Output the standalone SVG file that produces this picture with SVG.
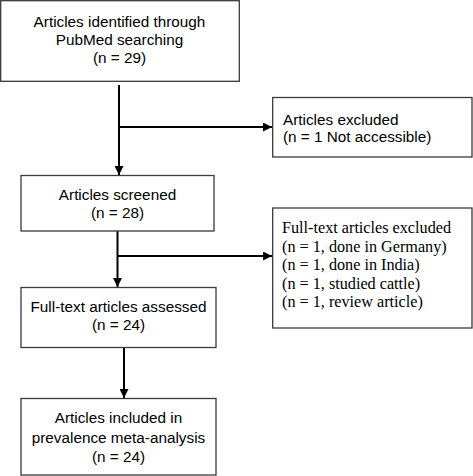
<svg xmlns="http://www.w3.org/2000/svg" width="473" height="476" viewBox="0 0 473 476">
<style>
.box{fill:#fff;stroke:#3a3a3a;stroke-width:1.3}
.t{font-family:"Liberation Sans",Arial,sans-serif;font-size:15.3px;fill:#000;text-anchor:middle}
.tl{font-family:"Liberation Sans",Arial,sans-serif;font-size:15.3px;fill:#000}
.ts{font-family:"Liberation Serif","Times New Roman",serif;font-size:16.2px;fill:#000}
.ln{stroke:#000;stroke-width:2;fill:none}
</style>
<defs>
<marker id="ah" viewBox="0 0 10 10" refX="10" refY="5" markerWidth="4.5" markerHeight="4.5" orient="auto" markerUnits="strokeWidth">
<path d="M0,0 L10,5 L0,10 z" fill="#000"/>
</marker>
</defs>
<rect width="473" height="476" fill="#fff"/>
<g id="connectors">
<line class="ln" x1="119" y1="85" x2="119" y2="175" marker-end="url(#ah)"/>
<line class="ln" x1="119" y1="127" x2="272" y2="127" stroke-width="1.6" marker-end="url(#ah)"/>
<line class="ln" x1="117.5" y1="231" x2="117.5" y2="287" marker-end="url(#ah)"/>
<line class="ln" x1="117.5" y1="256" x2="272" y2="256" marker-end="url(#ah)"/>
<line class="ln" x1="124" y1="348" x2="124" y2="398" marker-end="url(#ah)"/>
</g>
<g id="identified">
<rect class="box" x="0.7" y="0.7" width="238.6" height="80.6"/>
<text class="t" x="119.5" y="27">Articles identified through</text>
<text class="t" x="119.5" y="45">PubMed searching</text>
<text class="t" x="119.5" y="63">(n = 29)</text>
</g>
<g id="excluded1">
<rect class="box" x="272.7" y="97.5" width="199.3" height="59.5"/>
<text class="tl" x="283" y="125">Articles excluded</text>
<text class="tl" x="283" y="142">(n = 1 Not accessible)</text>
</g>
<g id="screened">
<rect class="box" x="21" y="175.5" width="193" height="55.5"/>
<text class="t" x="117.5" y="200">Articles screened</text>
<text class="t" x="117.5" y="218">(n = 28)</text>
</g>
<g id="excluded2">
<rect class="box" x="272.7" y="208" width="199.3" height="120"/>
<text class="ts" x="282" y="233">Full-text articles excluded</text>
<text class="ts" x="282" y="251.5">(n = 1, done in Germany)</text>
<text class="ts" x="282" y="270">(n = 1, done in India)</text>
<text class="ts" x="282" y="288.5">(n = 1, studied cattle)</text>
<text class="ts" x="282" y="307">(n = 1, review article)</text>
</g>
<g id="assessed">
<rect class="box" x="21" y="287.5" width="195" height="60"/>
<text class="t" x="118.5" y="311.5">Full-text articles assessed</text>
<text class="t" x="118.5" y="330">(n = 24)</text>
</g>
<g id="included">
<rect class="box" x="21" y="398.5" width="195" height="76.5"/>
<text class="t" x="118.5" y="423">Articles included in</text>
<text class="t" x="118.5" y="443">prevalence meta-analysis</text>
<text class="t" x="118.5" y="462">(n = 24)</text>
</g>
</svg>
